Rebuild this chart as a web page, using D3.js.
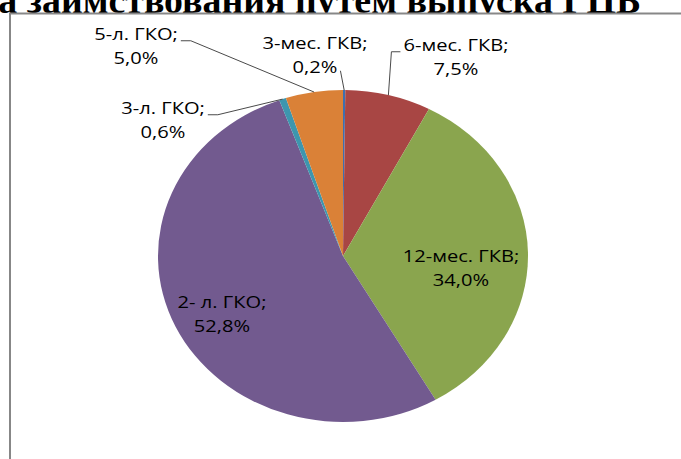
<!DOCTYPE html>
<html><head><meta charset="utf-8">
<script src="https://cdn.jsdelivr.net/npm/d3@7/dist/d3.min.js"></script>
<style>html,body{margin:0;padding:0;background:#fff;overflow:hidden}svg{display:block}</style>
</head><body>
<svg id="chart" width="681" height="459"></svg>
<script>
// ---- data ----
const categories = ["3-мес. ГКВ", "6-мес. ГКВ", "12-мес. ГКВ", "2- л. ГКО", "3-л. ГКО", "5-л. ГКО"];
const values = [0.2, 7.5, 34.0, 52.8, 0.6, 5.0];
const valueLabels = ["0,2%", "7,5%", "34,0%", "52,8%", "0,6%", "5,0%"];
const titleText = "а заимствования путем выпуска ГЦБ";

// ---- style / layout ----
const colors = ["#3F6FAE", "#A84644", "#8AA54E", "#725A8F", "#3D96AE", "#DA8137"];
// label block centre offsets from pie centre (px); leaders only for outside labels
const labelOffsets = [[-28, -195], [113, -193], [118, 18], [-121, 64], [-180, -130], [-207, -204]];
const outside = [true, true, false, false, true, true];

const W = 681, H = 459;
const cx = 343, cy = 256, rx = 185, ry = 166;
const textStretch = 1.22;
const lineGap = 23.5;
const labelSize = 16.5;

const svg = d3.select("#chart");

// title (lower part hidden behind chart area)
const titleFont = "'Liberation Serif','Times New Roman',serif";
const t = svg.append("text")
  .attr("font-family", titleFont)
  .attr("font-weight", "bold")
  .attr("font-size", 34)
  .attr("fill", "#000")
  .attr("text-anchor", "end")
  .attr("x", 641).attr("y", 13)
  .text(titleText);
const pw = t.node().getComputedTextLength();
t.attr("font-size", 34 * 643 / pw);

// chart area
svg.append("rect")
  .attr("x", 10).attr("y", 13.5).attr("width", 720).attr("height", 500)
  .attr("fill", "#fff").attr("stroke", "#878787").attr("stroke-width", 2);

// pie
const pie = d3.pie().sort(null).value(d => d)(values);
const arc = d3.arc().innerRadius(0).outerRadius(ry);
const g = svg.append("g").attr("transform", `translate(${cx},${cy}) scale(${rx / ry},1)`);
g.selectAll("path").data(pie).join("path")
  .attr("d", arc)
  .attr("fill", (d, i) => colors[i]);

// labels
const labelFont = "'Open Sans','Noto Sans',sans-serif";
pie.forEach((d, i) => {
  const [ox, oy] = labelOffsets[i];
  const lx = cx + ox, ly = cy + oy;
  const lg = svg.append("g").attr("transform", `translate(${lx},${ly}) scale(${textStretch},1)`);
  const txt = lg.append("text")
    .attr("font-family", labelFont).attr("font-size", labelSize).attr("fill", "#000")
    .attr("text-anchor", "middle");
  const t1 = txt.append("tspan").attr("x", 0).attr("y", -lineGap / 2).text(categories[i] + ";");
  const t2 = txt.append("tspan").attr("x", 0).attr("y", lineGap / 2).text(valueLabels[i]);
  if (!outside[i]) return;
  const w1 = t1.node().getComputedTextLength() * textStretch;
  const w2 = t2.node().getComputedTextLength() * textStretch;
  const mid = (d.startAngle + d.endAngle) / 2;
  const ex = cx + rx * Math.sin(mid), ey = cy - ry * Math.cos(mid);
  let pts;
  const y1 = ly - lineGap / 2 + 0.5;
  if (ex > lx - w1 / 2 && ex < lx + w1 / 2) {
    pts = [[lx + w2 / 2 + 3, ly + lineGap / 2 - 2], [ex, ey]];
  } else if (ex < lx) {
    const sx = lx - w1 / 2 - 3;
    pts = [[sx, y1], [sx - 9, y1], [ex, ey]];
  } else {
    const sx = lx + w1 / 2 + 3;
    pts = [[sx, y1], [sx + 10, y1], [ex, ey]];
  }
  svg.append("path")
    .attr("d", d3.line()(pts))
    .attr("fill", "none").attr("stroke", "#4a4a4a").attr("stroke-width", 1);
});
</script>
</body></html>
